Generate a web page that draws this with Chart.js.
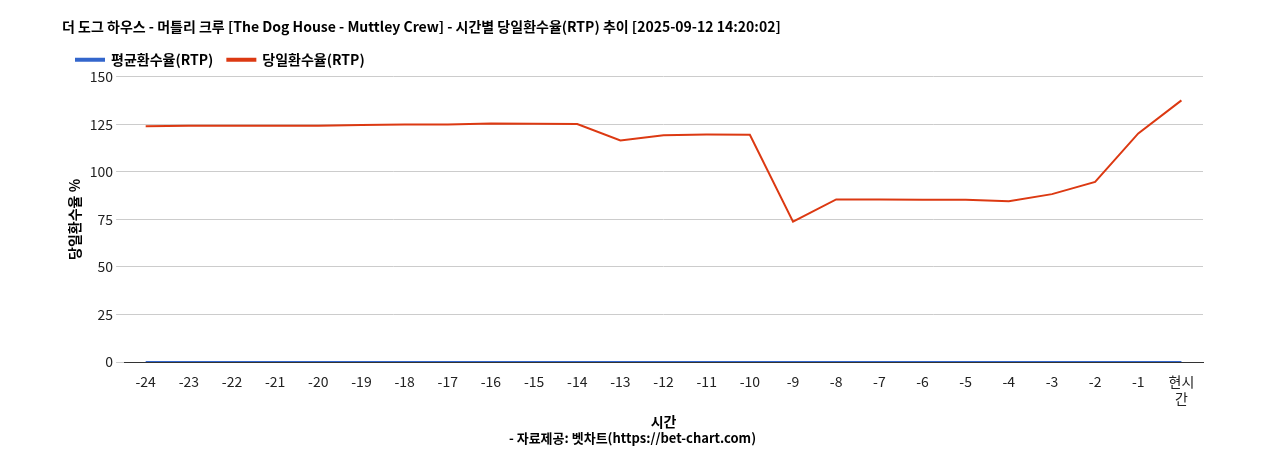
<!DOCTYPE html>
<html>
<head>
<meta charset="utf-8">
<script src="https://cdn.jsdelivr.net/npm/chart.js@4"></script>
<style>
  body { margin: 0; background: #fff; }
  #wrap { width: 1268px; height: 450px; }
</style>
</head>
<body>
<div id="wrap"><canvas id="c"></canvas></div>
<script>
const labels = ['-24','-23','-22','-21','-20','-19','-18','-17','-16','-15','-14','-13','-12','-11','-10','-9','-8','-7','-6','-5','-4','-3','-2','-1',['현시','간']];
const avgRtp = [0,0,0,0,0,0,0,0,0,0,0,0,0,0,0,0,0,0,0,0,0,0,0,0,0];
const dayRtp = [124,124.3,124.3,124.3,124.3,124.6,124.9,124.9,125.4,125.3,125.2,116.5,119.2,119.6,119.5,73.8,85.5,85.5,85.3,85.3,84.6,88.3,94.7,120.2,137.6];

Chart.defaults.font.family = "'Noto Sans CJK KR', 'Noto Sans', sans-serif";
Chart.defaults.color = '#222';

new Chart(document.getElementById('c'), {
  type: 'line',
  data: {
    labels: labels,
    datasets: [
      { label: '평균환수율(RTP)', data: avgRtp, borderColor: '#3366cc', backgroundColor: '#3366cc', borderWidth: 2, pointRadius: 0, fill: false },
      { label: '당일환수율(RTP)', data: dayRtp, borderColor: '#dc3912', backgroundColor: '#dc3912', borderWidth: 2, pointRadius: 0, fill: false }
    ]
  },
  options: {
    responsive: true,
    maintainAspectRatio: false,
    animation: false,
    layout: { padding: { left: 62, right: 65, top: 18, bottom: 4 } },
    plugins: {
      title: {
        display: true, align: 'start',
        text: '더 도그 하우스 - 머틀리 크루 [The Dog House - Muttley Crew] - 시간별 당일환수율(RTP) 추이 [2025-09-12 14:20:02]',
        font: { size: 14, weight: 'bold' }, color: '#000', padding: { top: 0, bottom: 4 }
      },
      legend: {
        align: 'start',
        labels: { boxWidth: 28, boxHeight: 2, font: { size: 14, weight: 'bold' }, color: '#000', padding: 14 }
      },
      subtitle: {
        display: true, position: 'bottom',
        text: '- 자료제공: 벳차트(https://bet-chart.com)',
        font: { size: 13, weight: 'bold' }, color: '#000'
      }
    },
    scales: {
      x: {
        offset: true,
        grid: { display: false },
        border: { color: '#333' },
        ticks: { font: { size: 14 }, color: '#222', maxRotation: 0, autoSkip: false },
        title: { display: true, text: '시간', font: { size: 14, weight: 'bold' }, color: '#000', padding: { top: 4, bottom: 0 } }
      },
      y: {
        min: 0, max: 150,
        ticks: { stepSize: 25, font: { size: 14 }, color: '#222' },
        grid: { color: '#ccc' },
        border: { display: false },
        title: { display: true, text: '당일환수율 %', font: { size: 14, weight: 'bold' }, color: '#000' }
      }
    }
  },
  plugins: [{
    // pull the y axis back to the left edge so the title/legend keep their indent
    id: 'shiftLeft',
    afterLayout(chart) {}
  }]
});
</script>
</body>
</html>
